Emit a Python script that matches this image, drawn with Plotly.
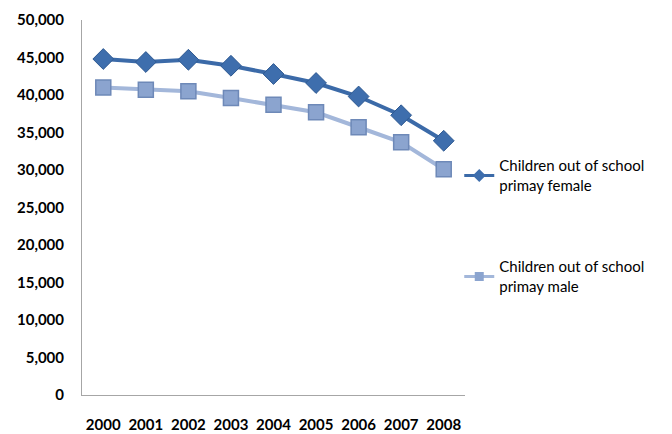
import plotly.graph_objects as go

years = ["2000", "2001", "2002", "2003", "2004", "2005", "2006", "2007", "2008"]
female = [44800, 44400, 44700, 43900, 42800, 41600, 39800, 37300, 33900]
male = [41000, 40700, 40500, 39600, 38700, 37700, 35700, 33700, 30100]
y_ticks = [0, 5000, 10000, 15000, 20000, 25000, 30000, 35000, 40000, 45000, 50000]
names = ["Children out of school<br>primay female", "Children out of school<br>primay male"]

FONT = "Lato, Open Sans, sans-serif"

F_LINE, F_MARK, F_EDGE = "#3B6AA8", "#3E6EAD", "#2F5A92"
M_LINE, M_MARK, M_EDGE = "#A3B7DA", "#8BA4CF", "#6E89B8"

fig = go.Figure()
fig.add_trace(go.Scatter(
    x=years, y=female, mode="lines+markers", showlegend=False,
    line=dict(color=F_LINE, width=4),
    marker=dict(symbol="diamond", size=16, color=F_MARK,
                line=dict(color=F_EDGE, width=1)),
))
fig.add_trace(go.Scatter(
    x=years, y=male, mode="lines+markers", showlegend=False,
    line=dict(color=M_LINE, width=4),
    marker=dict(symbol="square", size=15, color=M_MARK,
                line=dict(color=M_EDGE, width=1.5)),
))

# legend keys with smaller symbols than the plotted markers
fig.add_trace(go.Scatter(
    x=[None], y=[None], mode="lines+markers", name=names[0], legendgroup="f",
    line=dict(color=F_LINE, width=3),
    marker=dict(symbol="diamond", size=10, color=F_MARK),
))
fig.add_trace(go.Scatter(
    x=[None], y=[None], mode="lines+markers", name=names[1], legendgroup="m",
    line=dict(color=M_LINE, width=3),
    marker=dict(symbol="square", size=9, color=M_MARK),
))

fig.update_layout(
    width=672, height=434,
    margin=dict(l=82, r=207, t=20, b=39),
    paper_bgcolor="white", plot_bgcolor="white",
    font=dict(family=FONT, size=15, color="#000000"),
    showlegend=True,
    legend=dict(
        x=0.985, y=0.655, xanchor="left", yanchor="top",
        traceorder="grouped", tracegroupgap=59,
        font=dict(family=FONT, size=15, color="#000000"),
        itemwidth=30,
    ),
    xaxis=dict(
        type="category", range=[-0.5, 8.5], automargin=False,
        showgrid=False, showline=True, linecolor="#A6A6A6", linewidth=1,
        ticks="", ticklabelstandoff=16,
        tickfont=dict(family=FONT, size=15, color="#000000", weight="bold"),
        zeroline=False,
    ),
    yaxis=dict(
        range=[0, 50000], tickvals=y_ticks, tickformat=",d", automargin=False,
        showgrid=False, showline=True, linecolor="#A6A6A6", linewidth=1,
        ticks="", ticklabelstandoff=14,
        tickfont=dict(family=FONT, size=15, color="#000000", weight="bold"),
        zeroline=False,
    ),
)

fig.write_html("out.html")
